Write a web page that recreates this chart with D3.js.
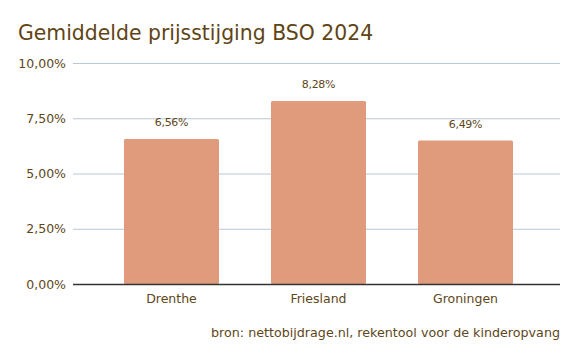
<!DOCTYPE html>
<html><head><meta charset="utf-8">
<script src="https://cdn.jsdelivr.net/npm/d3@7"></script>
<style>body{margin:0;background:#fff}svg{display:block}</style>
</head><body>
<script>
const categories = ["Drenthe", "Friesland", "Groningen"];
const values = [6.56, 8.28, 6.49];
const yTicks = [0, 2.5, 5, 7.5, 10];
const title = "Gemiddelde prijsstijging BSO 2024";
const source = "bron: nettobijdrage.nl, rekentool voor de kinderopvang";

const W = 580, H = 358;
const font = "'DejaVu Sans', Verdana, sans-serif";
const txt = "#5e4619";
const svg = d3.select("body").append("svg").attr("width", W).attr("height", H);

const fmt = v => d3.format(".2f")(v).replace(".", ",") + "%";
const y = d3.scaleLinear().domain([0, 10]).range([284, 63]);
const x = d3.scaleBand().domain(categories).range([98, 539]).padding(0);
const bw = x.bandwidth() * 0.646;

svg.append("text").attr("x", 18).attr("y", 40).attr("font-family", font)
  .attr("font-size", 20.4).attr("fill", "#5f4414").text(title);

svg.append("g").selectAll("line").data(yTicks.filter(d => d > 0)).join("line")
  .attr("x1", 73).attr("x2", 560).attr("y1", d => y(d) + 0.5).attr("y2", d => y(d) + 0.5)
  .attr("stroke", "#b8c8d4").attr("stroke-width", 1);

svg.append("g").selectAll("text").data(yTicks).join("text")
  .attr("x", 66).attr("y", d => y(d) + 4.5).attr("text-anchor", "end")
  .attr("font-family", font).attr("font-size", 12.5).attr("fill", txt).text(fmt);

svg.append("g").selectAll("rect").data(values).join("rect")
  .attr("x", (d, i) => x(categories[i]) + (x.bandwidth() - bw) / 2)
  .attr("width", bw).attr("y", d => y(d)).attr("height", d => y(0) - y(d))
  .attr("rx", 1.5).attr("fill", "#e09a7c");

svg.append("line").attr("x1", 73).attr("x2", 560).attr("y1", 284.5).attr("y2", 284.5)
  .attr("stroke", "#333").attr("stroke-width", 1.3);

svg.append("g").selectAll("text").data(values).join("text")
  .attr("x", (d, i) => x(categories[i]) + x.bandwidth() / 2).attr("y", d => y(d) - 13)
  .attr("text-anchor", "middle").attr("font-family", font).attr("font-size", 11)
  .attr("letter-spacing", -0.3).attr("fill", txt).text(fmt);

svg.append("g").selectAll("text").data(categories).join("text")
  .attr("x", d => x(d) + x.bandwidth() / 2).attr("y", 303).attr("text-anchor", "middle")
  .attr("font-family", font).attr("font-size", 12.5).attr("fill", txt).text(d => d);

svg.append("text").attr("x", 560).attr("y", 337).attr("text-anchor", "end")
  .attr("font-family", font).attr("font-size", 12.7).attr("fill", txt).text(source);
</script>
</body></html>
